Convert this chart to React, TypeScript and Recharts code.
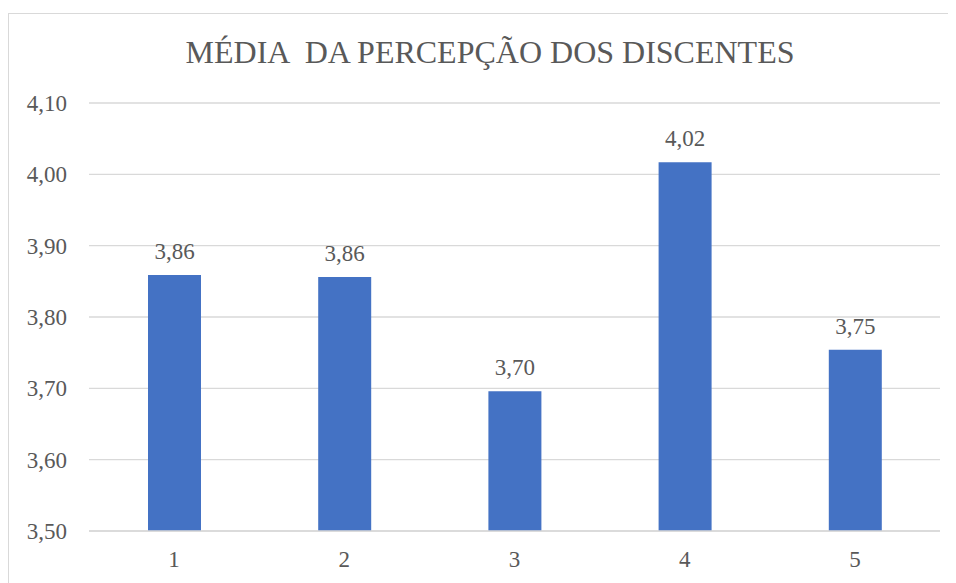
import React from "react";
import { BarChart, Bar, XAxis, YAxis, CartesianGrid, LabelList } from "recharts";

const categories = ["1", "2", "3", "4", "5"];
const values = [3.859, 3.856, 3.696, 4.017, 3.754];
const yTicks = [3.5, 3.6, 3.7, 3.8, 3.9, 4.0, 4.1];
const title = "MÉDIA  DA PERCEPÇÃO DOS DISCENTES";

const data = categories.map((c, i) => ({ name: c, value: values[i] }));

const fmt = (v: number) => v.toFixed(2).replace(".", ",");

const FONT = "'Liberation Serif', 'Times New Roman', serif";
const TEXT = "#595959";

export default function App() {
  return (
    <div style={{ position: "relative", width: 948, height: 575, overflow: "hidden" }}>
      <style>{`.recharts-wrapper text, .recharts-text { font-family: 'Liberation Serif', 'Times New Roman', serif !important; }`}</style>
      <div
        style={{
          position: "absolute",
          left: 0,
          top: 5,
          width: 962,
          height: 620,
          border: "1px solid #d9d9d9",
          background: "#fff",
        }}
      >
        <div
          style={{
            position: "absolute",
            left: 0,
            width: 962,
            top: 22,
            textAlign: "center",
            fontFamily: FONT,
            fontSize: 32,
            lineHeight: "32px",
            color: TEXT,
            whiteSpace: "pre",
          }}
        >
          {title}
        </div>
        <BarChart
          width={960}
          height={600}
          data={data}
          style={{ fontFamily: FONT }}
          margin={{ top: 89, right: 29, left: 0, bottom: 43 }}
        >
          <CartesianGrid vertical={false} stroke="#d9d9d9" strokeWidth={1.3} />
          <XAxis
            dataKey="name"
            axisLine={{ stroke: "#d9d9d9", strokeWidth: 1.3 }}
            tickLine={false}
            tickSize={0}
            tickMargin={20}
            height={40}
            tick={{ fill: TEXT, fontFamily: FONT, fontSize: 23 }}
          />
          <YAxis
            domain={[3.5, 4.1]}
            ticks={yTicks}
            interval={0}
            width={80}
            axisLine={false}
            tickLine={false}
            tickSize={0}
            tickMargin={22}
            tickFormatter={fmt}
            tick={{ fill: TEXT, fontFamily: FONT, fontSize: 23 }}
          />
          <Bar dataKey="value" fill="#4472C4" barSize={53} isAnimationActive={false}>
            <LabelList
              dataKey="value"
              position="top"
              offset={16}
              formatter={(v: any) => fmt(Number(v))}
              style={{ fill: TEXT, fontFamily: FONT, fontSize: 23 }}
            />
          </Bar>
        </BarChart>
      </div>
    </div>
  );
}
